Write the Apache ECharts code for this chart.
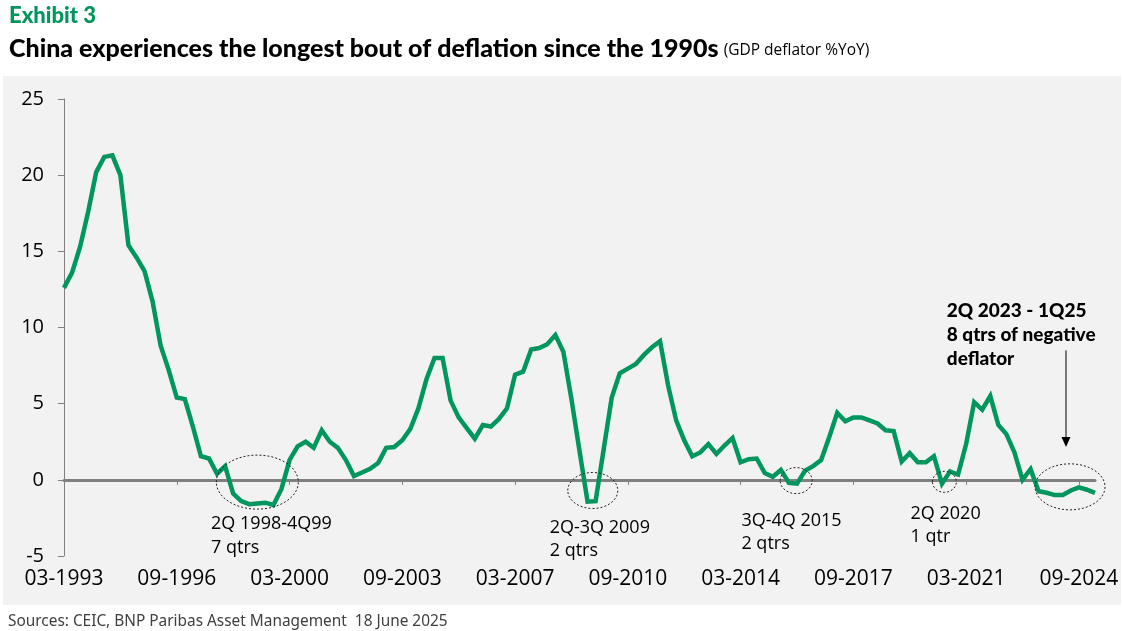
<!DOCTYPE html>
<html>
<head>
<meta charset="utf-8">
<script src="https://cdn.jsdelivr.net/npm/echarts@6/dist/echarts.min.js"></script>
<style>
  html, body { margin: 0; padding: 0; background: #fff; }
  #main { width: 1123px; height: 631px; }
</style>
</head>
<body>
<div id="main"></div>
<script>
// GDP deflator %YoY, quarterly 1Q1993 - 1Q2025
var deflator = [
  12.6, 13.6, 15.3, 17.6, 20.2, 21.2, 21.3, 20.0,   // 1993-94
  15.4, 14.6, 13.7, 11.7, 8.8, 7.2, 5.4, 5.3,       // 1995-96
  3.5, 1.55, 1.4, 0.4, 0.9, -0.9, -1.4, -1.6,       // 1997-98
  -1.55, -1.5, -1.65, -0.6, 1.3, 2.2, 2.5, 2.1,     // 1999-2000
  3.25, 2.5, 2.1, 1.3, 0.25, 0.48, 0.72, 1.1,       // 2001-02
  2.1, 2.15, 2.6, 3.35, 4.7, 6.6, 8.0, 8.0,         // 2003-04
  5.2, 4.1, 3.4, 2.7, 3.6, 3.5, 4.0, 4.7,           // 2005-06
  6.9, 7.1, 8.55, 8.65, 8.9, 9.5, 8.4, 5.3,         // 2007-08
  1.9, -1.43, -1.4, 2.0, 5.4, 7.0, 7.3, 7.6,        // 2009-10
  8.2, 8.7, 9.1, 6.2, 3.9, 2.6, 1.55, 1.8,          // 2011-12
  2.35, 1.7, 2.25, 2.75, 1.15, 1.35, 1.4, 0.45,     // 2013-14
  0.2, 0.65, -0.2, -0.25, 0.6, 0.9, 1.3, 2.8,       // 2015-16
  4.4, 3.85, 4.1, 4.1, 3.9, 3.7, 3.25, 3.2,         // 2017-18
  1.2, 1.75, 1.15, 1.15, 1.55, -0.25, 0.55, 0.35,   // 2019-20
  2.35, 5.1, 4.6, 5.5, 3.6, 3.0, 1.8, 0.0,          // 2021-22
  0.7, -0.75, -0.85, -1.0, -1.0, -0.7, -0.5, -0.65, // 2023-24
  -0.85                                             // 2025
];

var months = ['03', '06', '09', '12'];
var quarters = [];
for (var yr = 1993; yr <= 2025; yr++) {
  months.forEach(function (m) { quarters.push(m + '-' + yr); });
}
quarters = quarters.slice(0, deflator.length);

var yTicks = { min: -5, max: 25, step: 5 };

// dashed ovals round the negative spells: [quarter index, value, rx px, ry px]
var ovals = [
  [24.0, -0.15, 41, 27],
  [65.65, -0.7, 25, 18],
  [90.9, -0.05, 16, 13],
  [109.3, -0.13, 12, 10.5],
  [124.9, -0.46, 35, 23]
];

// annotation texts: [quarter index, value at top-left, text, bold]
var notes = [
  [18.26, -2.12, '2Q 1998-4Q99\n7 qtrs', false],
  [60.3, -2.35, '2Q-3Q 2009\n2 qtrs', false],
  [84.1, -1.92, '3Q-4Q 2015\n2 qtrs', false],
  [105.1, -1.46, '2Q 2020\n1 qtr', false],
  [109.6, 11.88, '2Q 2023 - 1Q25\n8 qtrs of negative\ndeflator', true]
];

// arrow: [quarter index, from value, to value]
var arrow = [[124.4, 8.5, 2.15]];

var green = '#00965E';
var axisGrey = '#808080';

var myChart = echarts.init(document.getElementById('main'));

var option = {
  backgroundColor: '#fff',
  animation: false,
  title: [
    {
      text: 'Exhibit 3',
      left: 4, top: 0,
      textStyle: { fontFamily: 'Lato', fontWeight: 900, fontSize: 22, color: green }
    },
    {
      text: '{a|China experiences the longest bout of deflation since the 1990s} {b|(GDP deflator %YoY)}',
      left: 4, top: 31,
      textStyle: {
        rich: {
          a: { fontFamily: 'Lato', fontWeight: 900, fontSize: 25, color: '#000' },
          b: { fontFamily: 'Open Sans', fontWeight: 'normal', fontSize: 15.5, color: '#000', padding: [4, 0, 0, 0] }
        }
      }
    },
    {
      text: 'Sources: CEIC, BNP Paribas Asset Management  18 June 2025',
      left: 3, top: 609,
      textStyle: { fontFamily: 'Noto Sans', fontWeight: 'normal', fontSize: 15.4, color: '#404040' }
    }
  ],
  graphic: [
    { type: 'rect', z: -10, silent: true, shape: { x: 3, y: 76, width: 1118, height: 529 }, style: { fill: '#f2f2f2' } }
  ],
  grid: { left: 64, right: 28, top: 99, bottom: 75, containLabel: false, outerBoundsMode: 'none' },
  xAxis: [
    {
      // labels along the bottom
      type: 'category',
      data: quarters,
      boundaryGap: false,
      position: 'bottom',
      axisLine: { show: false, onZero: false },
      axisTick: { show: false },
      axisLabel: { interval: 13, fontFamily: 'Open Sans', fontSize: 21, color: '#000', margin: 13 },
      splitLine: { show: false }
    },
    {
      // the zero line with its ticks
      type: 'category',
      data: quarters,
      boundaryGap: false,
      position: 'bottom',
      axisLine: { show: true, onZero: true, lineStyle: { color: axisGrey, width: 3 } },
      axisTick: { show: true, interval: 13, length: 5, lineStyle: { color: axisGrey, width: 1 } },
      axisLabel: { show: false },
      splitLine: { show: false }
    },
    {
      // hidden linear axis for the annotations
      type: 'value',
      min: 0,
      max: deflator.length - 1,
      show: false
    }
  ],
  yAxis: {
    type: 'value',
    min: yTicks.min, max: yTicks.max, interval: yTicks.step,
    axisLine: { show: true, onZero: false, lineStyle: { color: axisGrey, width: 1 } },
    axisTick: { show: true, length: 6, lineStyle: { color: axisGrey } },
    axisLabel: { fontFamily: 'Open Sans', fontSize: 20, color: '#000', margin: 20 },
    splitLine: { show: false }
  },
  series: [
    {
      name: 'GDP deflator %YoY',
      type: 'line',
      xAxisIndex: 0,
      data: deflator,
      symbol: 'none',
      lineStyle: { color: green, width: 4.5, join: 'miter' },
      z: 3
    },
    {
      type: 'custom',
      xAxisIndex: 2,
      silent: true,
      z: 4,
      data: ovals,
      renderItem: function (params, api) {
        var c = api.coord([api.value(0), api.value(1)]);
        return {
          type: 'ellipse',
          shape: { cx: c[0], cy: c[1], rx: api.value(2), ry: api.value(3) },
          style: { fill: 'none', stroke: '#222', lineWidth: 1, lineDash: [2, 2] }
        };
      }
    },
    {
      type: 'custom',
      xAxisIndex: 2,
      silent: true,
      z: 5,
      data: notes,
      renderItem: function (params, api) {
        var n = notes[params.dataIndex];
        var c = api.coord([n[0], n[1]]);
        return {
          type: 'text',
          x: c[0], y: c[1],
          style: {
            text: n[2],
            fontFamily: n[3] ? 'Lato' : 'Open Sans',
            fontWeight: n[3] ? 900 : 'normal',
            fontSize: n[3] ? 19 : 18,
            lineHeight: n[3] ? 24 : 23.5,
            fill: '#000',
            align: 'left',
            verticalAlign: 'top'
          }
        };
      }
    },
    {
      type: 'custom',
      xAxisIndex: 2,
      silent: true,
      z: 5,
      data: arrow,
      renderItem: function (params, api) {
        var a = api.coord([api.value(0), api.value(1)]);
        var b = api.coord([api.value(0), api.value(2)]);
        return {
          type: 'group',
          children: [
            { type: 'line', shape: { x1: a[0], y1: a[1], x2: b[0], y2: b[1] - 8 }, style: { stroke: '#000', lineWidth: 1 } },
            { type: 'polygon', shape: { points: [[b[0] - 4.5, b[1] - 10], [b[0] + 4.5, b[1] - 10], [b[0], b[1]]] }, style: { fill: '#000' } }
          ]
        };
      }
    }
  ]
};

myChart.setOption(option);
</script>
</body>
</html>
